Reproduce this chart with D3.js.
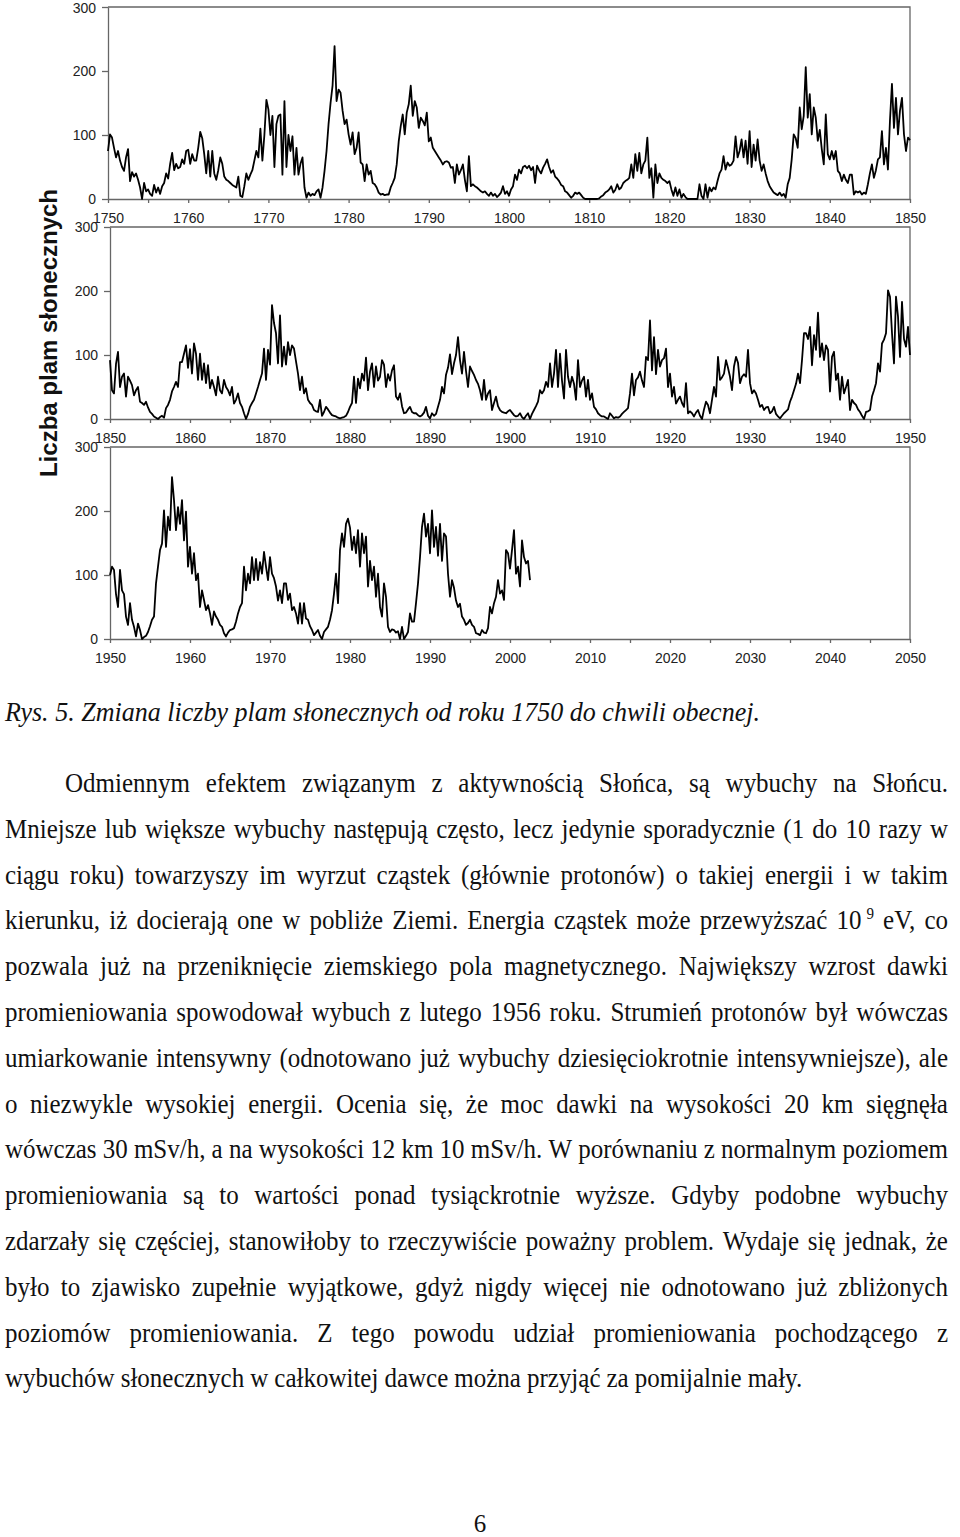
<!DOCTYPE html>
<html>
<head>
<meta charset="utf-8">
<script src="https://cdn.jsdelivr.net/npm/d3@7"></script>
<style>
  body { margin: 0; background: #fff; }
  .tick text { font-family: "Liberation Sans", Arial, sans-serif; font-size: 14px; fill: #222; }
  .body { font-family: "Liberation Serif", "Times New Roman", serif; font-size: 25px; fill: #111; }
</style>
</head>
<body>
<svg id="page" width="960" height="1537"></svg>
<script>
// sunspot numbers, 4 values per year (quarters)
var ssn1750 = [
	75,101,96,80, 65,75,60,50, 44,65,78,28, 42,35,40,30, 18,0,25,12,
	15,8,5,22, 10,18,8,20, 25,40,32,55, 72,45,55,48, 50,62,55,75,
	77,55,70,60, 60,80,105,95, 70,40,75,35, 75,40,30,45, 65,55,35,30,
	28,25,22,20, 18,35,5,3, 20,40,30,38, 45,60,75,65, 110,60,100,155,
	140,100,130,50, 117,130,132,38, 153,50,100,75, 98,38,80,38, 55,65,18,2,
	10,5,8,6, 12,15,2,18, 44,75,117,150, 177,239,153,171, 166,138,117,124,
	101,85,104,70, 80,104,57,54, 28,54,38,44, 25,23,18,10, 7,8,6,7,
	7,18,25,33, 54,90,114,132, 101,135,148,177, 130,153,143,111, 127,122,115,135,
	90,96,80,75, 70,65,60,54, 58,59,57,49, 50,25,54,38, 45,54,30,12,
	67,20,23,20, 18,15,12,10, 12,8,5,10, 5,8,3,6, 10,20,8,12
];
var ssn1800 = [
	5,15,20,38, 30,46,40,50, 52,48,52,45, 50,25,52,45, 40,49,55,62,
	50,41,45,35, 32,28,22,20, 12,10,6,2, 5,10,8,10, 6,2,0,0,
	0,0,0,0, 0,1,4,6, 10,12,15,20, 10,14,23,15, 18,25,28,30,
	33,54,33,70, 44,72,40,54, 60,96,33,48, 2,54,25,40, 33,30,28,25,
	28,15,5,18, 5,15,2,8, 3,0,0,0, 0,0,0,23, 5,0,23,2,
	18,12,18,15, 28,40,46,67, 46,57,52,54, 60,98,65,75, 93,65,91,55,
	106,50,85,60, 93,60,44,54, 40,28,20,15, 10,8,6,10, 5,8,2,23,
	33,62,101,95, 80,143,109,130, 206,127,164,101, 143,127,91,108, 78,54,132,70,
	62,75,62,75, 44,40,28,38, 30,25,38,38, 7,12,10,12, 7,10,8,23,
	40,54,33,45, 62,65,106,54, 80,46,122,180, 111,158,101,138, 158,101,75,96
];
var ssn1850 = [
	92,45,40,86, 105,50,66,71, 35,66,60,53, 37,45,50,27, 25,22,27,18,
	11,8,4,2, 0,3,5,2, 17,22,30,43, 50,58,50,89, 89,102,115,80,
	109,71,118,102, 61,102,61,87, 56,84,48,61, 50,37,66,45, 40,61,50,45,
	37,50,24,30, 40,25,19,9, 0,8,19,25, 30,40,50,61, 71,110,61,108,
	85,178,150,134, 87,162,82,113, 85,120,100,115, 110,90,71,45, 66,40,48,30,
	25,22,14,12, 11,30,5,11, 19,15,10,6, 5,4,2,1, 2,3,5,11,
	19,25,66,25, 63,48,71,60, 96,45,74,87, 50,82,60,66, 92,85,50,70,
	60,76,84,35, 30,40,20,9, 10,15,19,11, 9,9,6,4, 6,10,19,5,
	1,9,5,8, 19,30,50,40, 69,80,101,70, 87,100,128,92, 71,105,75,50,
	82,75,69,61, 55,45,30,61, 30,40,45,14, 25,35,20,14, 11,10,9,12
];
var ssn1900 = [
	14,10,6,4, 5,9,3,0, 5,9,0,8, 14,20,27,45, 40,45,58,50,
	87,50,71,108, 50,102,60,32, 108,66,50,66, 55,30,92,50, 60,66,35,61,
	30,40,19,15, 9,6,4,4, 2,0,9,5, 1,3,2,4, 8,11,14,17,
	40,71,37,61, 65,74,60,50, 97,92,154,76, 128,70,108,82, 92,95,110,50,
	71,35,50,24, 30,35,25,19, 56,9,12,9, 4,10,14,5, 0,15,27,22,
	9,30,50,35, 97,61,65,71, 92,80,66,45, 82,97,88,56, 66,70,66,108,
	56,40,45,40, 30,19,22,14, 18,19,9,12, 19,8,4,1, 5,9,12,15,
	27,35,45,55, 71,56,92,134, 134,125,144,84, 131,108,166,97, 118,92,115,108,
	43,97,105,61, 71,30,66,40, 50,61,14,30, 25,22,15,11, 5,0,11,12,
	14,35,45,56, 87,74,118,124, 134,201,191,134, 87,191,160,97, 183,125,113,144
];
var ssn1950 = [
	100,113,108,70, 50,108,76,70, 35,22,56,30, 19,4,24,14, 0,3,5,11,
	20,30,35,87, 113,139,149,201, 144,191,170,253, 217,170,206,180, 217,154,199,113,
	144,102,134,92, 102,50,76,61, 45,53,40,22, 43,35,30,22, 19,9,4,10,
	14,15,17,27, 40,50,56,113, 76,102,87,128, 92,125,92,120, 102,136,113,92,
	128,102,95,82, 60,76,56,87, 87,61,71,45, 50,40,24,56, 24,56,32,30,
	20,14,6,10, 14,5,0,11, 15,19,30,45, 71,102,56,139, 165,144,180,188,
	174,139,160,134, 170,113,165,134, 160,82,122,92, 113,66,102,50, 35,87,66,19,
	11,15,14,10, 12,0,19,0, 5,11,40,27, 27,56,87,128, 175,196,160,180,
	134,201,144,175, 130,180,122,165, 160,102,66,92, 80,60,50,55, 35,30,22,25,
	30,22,19,9, 8,6,14,10, 9,17,50,40, 56,66,92,71, 76,61,139,134,
	110,139,170,102, 113,82,154,128, 118,122,92
];

var blocks = [[1750, ssn1750], [1800, ssn1800], [1850, ssn1850], [1900, ssn1900], [1950, ssn1950]];
var panelYears = [[1750, 1850], [1850, 1950], [1950, 2050]];
var yTicks = [0, 100, 200, 300];
var yTitle = "Liczba plam słonecznych";
var caption = "Rys. 5. Zmiana liczby plam słonecznych od roku 1750 do chwili obecnej.";
var bodyLines = [
	"Odmiennym efektem związanym z aktywnością Słońca, są wybuchy na Słońcu.",
	"Mniejsze lub większe wybuchy następują często, lecz jedynie sporadycznie (1 do 10 razy w",
	"ciągu roku) towarzyszy im wyrzut cząstek (głównie protonów) o takiej energii i w takim",
	"kierunku, iż docierają one w pobliże Ziemi. Energia cząstek może przewyższać 10^9 eV, co",
	"pozwala już na przeniknięcie ziemskiego pola magnetycznego. Największy wzrost dawki",
	"promieniowania spowodował wybuch z lutego 1956 roku. Strumień protonów był wówczas",
	"umiarkowanie intensywny (odnotowano już wybuchy dziesięciokrotnie intensywniejsze), ale",
	"o niezwykle wysokiej energii. Ocenia się, że moc dawki na wysokości 20 km sięgnęła",
	"wówczas 30 mSv/h, a na wysokości 12 km 10 mSv/h. W porównaniu z normalnym poziomem",
	"promieniowania są to wartości ponad tysiąckrotnie wyższe. Gdyby podobne wybuchy",
	"zdarzały się częściej, stanowiłoby to rzeczywiście poważny problem. Wydaje się jednak, że",
	"było to zjawisko zupełnie wyjątkowe, gdyż nigdy więcej nie odnotowano już zbliżonych",
	"poziomów promieniowania. Z tego powodu udział promieniowania pochodzącego z",
	"wybuchów słonecznych w całkowitej dawce można przyjąć za pomijalnie mały."
];
var pageNumber = "6";

var series = [];
blocks.forEach(function(b) {
	b[1].forEach(function(v, i) {
		series.push({ year: b[0] + i / 4, value: v });
	});
});

var page = d3.select("#page");

var panelTop = [7, 227, 447];
var panelLeft = [108, 110, 110];
var panelRight = 910;
var panelH = 192;

panelYears.forEach(function(p, k) {
	var top = panelTop[k], bottom = top + panelH;
	var x = d3.scaleLinear().domain(p).range([panelLeft[k], panelRight]);
	var y = d3.scaleLinear().domain([0, 300]).range([bottom, top]);
	var g = page.append("g");

	// top and right edge of the plot box
	g.append("path")
		.attr("d", "M" + x(p[0]) + "," + y(300) + "H" + x(p[1]) + "V" + y(0))
		.attr("fill", "none").attr("stroke", "#666").attr("stroke-width", 1.3);

	var xAxis = d3.axisBottom(x)
		.tickValues(d3.range(p[0], p[1] + 1, 5))
		.tickFormat(function(d) { return d % 10 === 0 ? d : ""; })
		.tickSize(4).tickSizeOuter(0).tickPadding(10);
	g.append("g").attr("transform", "translate(0," + bottom + ")").call(xAxis);

	var yAxis = d3.axisLeft(y).tickValues(yTicks).tickSize(6).tickSizeOuter(0).tickPadding(6);
	var ya = g.append("g").attr("transform", "translate(" + x(p[0]) + ",0)").call(yAxis);
	if (k === 0) {
		// keep the top label inside the page
		ya.selectAll(".tick text").filter(function(d) { return d === 300; }).attr("dy", "0.42em");
	}

	g.selectAll(".domain, .tick line").attr("stroke", "#666").attr("stroke-width", 1.3);

	var pts = series.filter(function(d) { return d.year >= p[0] && d.year <= p[1]; });
	var line = d3.line()
		.x(function(d) { return x(d.year); })
		.y(function(d) { return y(d.value); });
	g.append("path").datum(pts)
		.attr("d", line)
		.attr("fill", "none").attr("stroke", "#000")
		.attr("stroke-width", 1.8).attr("stroke-linejoin", "round");
});

page.append("text")
	.attr("transform", "translate(57,333) rotate(-90)")
	.attr("text-anchor", "middle")
	.style("font-family", '"Liberation Sans", Arial, sans-serif')
	.style("font-size", "24px").style("font-weight", "bold").style("fill", "#111")
	.text(yTitle);

page.append("text")
	.attr("transform", "translate(5,721) scale(1,1.06)")
	.attr("textLength", 755).attr("lengthAdjust", "spacingAndGlyphs")
	.attr("class", "body").style("font-style", "italic")
	.text(caption);

// justified body text, one word per text element
function fillWord(sel, w) {
	var parts = w.split("^");
	sel.append("tspan").text(parts[0]);
	if (parts.length > 1) {
		sel.append("tspan").attr("dx", 5).attr("dy", -10).style("font-size", "15px").text(parts[1]);
	}
}
function wordWidth(w) {
	var tmp = page.append("text").attr("class", "body");
	fillWord(tmp, w);
	var len = tmp.node().getComputedTextLength() + (w.indexOf("^") > -1 ? 5 : 0);
	tmp.remove();
	return len;
}

var lineRight = 948, lineLeft = 5, indent = 65;
var firstBase = 792, lineGap = 45.8;
bodyLines.forEach(function(str, i) {
	var words = str.split(" ");
	var widths = words.map(wordWidth);
	var x0 = i === 0 ? indent : lineLeft;
	var total = d3.sum(widths);
	var last = i === bodyLines.length - 1;
	var gap = last ? 6 : (lineRight - x0 - total) / (words.length - 1);
	var g = page.append("g")
		.attr("transform", "translate(0," + (firstBase + i * lineGap) + ") scale(1,1.07)");
	var cx = x0;
	words.forEach(function(w, j) {
		var t = g.append("text").attr("class", "body").attr("x", cx).attr("y", 0);
		fillWord(t, w);
		cx += widths[j] + gap;
	});
});

page.append("text")
	.attr("x", 480).attr("y", 1532).attr("text-anchor", "middle")
	.attr("class", "body")
	.text(pageNumber);
</script>
</body>
</html>
